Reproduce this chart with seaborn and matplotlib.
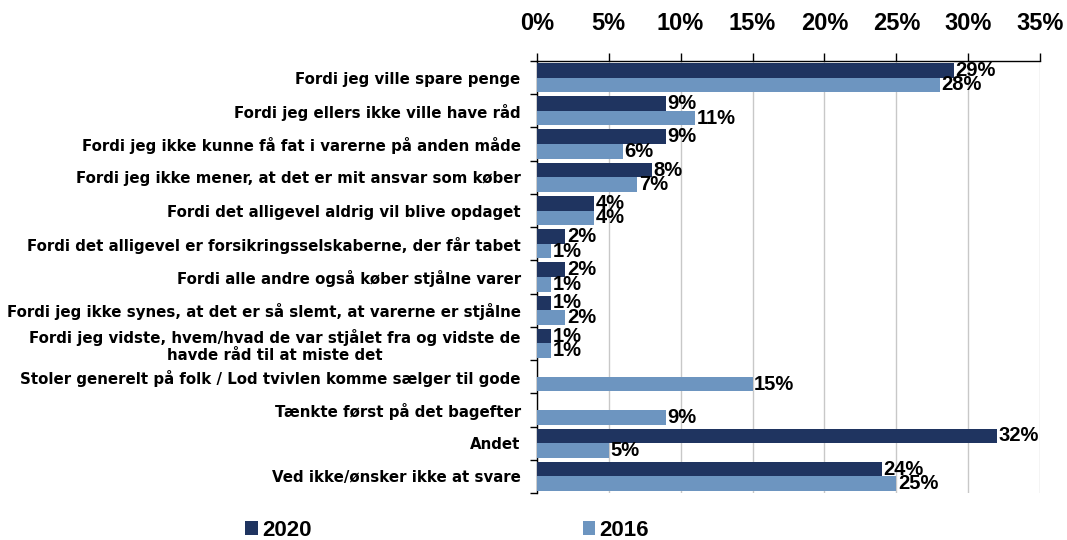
import pandas as pd
import numpy as np
import matplotlib.pyplot as plt
import seaborn as sns
from matplotlib.ticker import FuncFormatter, FixedLocator

# Chart data (percent)
categories = [
    "Fordi jeg ville spare penge",
    "Fordi jeg ellers ikke ville have råd",
    "Fordi jeg ikke kunne få fat i varerne på anden måde",
    "Fordi jeg ikke mener, at det er mit ansvar som køber",
    "Fordi det alligevel aldrig vil blive opdaget",
    "Fordi det alligevel er forsikringsselskaberne, der får tabet",
    "Fordi alle andre også køber stjålne varer",
    "Fordi jeg ikke synes, at det er så slemt, at varerne er stjålne",
    "Fordi jeg vidste, hvem/hvad de var stjålet fra og vidste de\nhavde råd til at miste det",
    "Stoler generelt på folk / Lod tvivlen komme sælger til gode",
    "Tænkte først på det bagefter",
    "Andet",
    "Ved ikke/ønsker ikke at svare",
]
values_2020 = [29, 9, 9, 8, 4, 2, 2, 1, 1, np.nan, np.nan, 32, 24]
values_2016 = [28, 11, 6, 7, 4, 1, 1, 2, 1, 15, 9, 5, 25]
years = ["2020", "2016"]
x_ticks = [0, 5, 10, 15, 20, 25, 30, 35]

colors = {"2020": "#1F3460", "2016": "#6D95C0"}

df = pd.concat([
    pd.DataFrame({"category": categories, "value": values_2020, "year": "2020"}),
    pd.DataFrame({"category": categories, "value": values_2016, "year": "2016"}),
], ignore_index=True)

sns.set_style("white")
plt.rcParams["font.family"] = ["Liberation Sans", "DejaVu Sans"]
plt.rcParams["font.weight"] = "bold"
plt.rcParams["text.color"] = "black"
plt.rcParams["xtick.color"] = "black"
plt.rcParams["ytick.color"] = "black"

fig = plt.figure(figsize=(10.67, 5.4), dpi=100)
ax = fig.add_axes([0.503, 0.087, 0.472, 0.800])

sns.barplot(data=df, x="value", y="category", hue="year", hue_order=years,
            order=categories, palette=colors, orient="h", width=0.88,
            linewidth=0, saturation=1, ax=ax, zorder=3)

# value labels
for cont in ax.containers:
    labels = ["" if np.isnan(v) else f"{v:.0f}%" for v in cont.datavalues]
    ax.bar_label(cont, labels=labels, padding=1, fontsize=14.5, fontweight="bold",
                 color="black")

ax.set_xlim(0, 35)
ax.set_ylim(len(categories) - 0.5, -0.5)
ax.xaxis.set_major_locator(FixedLocator(x_ticks))
ax.xaxis.set_major_formatter(FuncFormatter(lambda v, p: f"{v:.0f}%"))
ax.xaxis.tick_top()
ax.tick_params(axis="x", which="major", direction="out", length=6, width=1,
               color="black", pad=13, labelsize=17, top=True, bottom=False)
ax.grid(axis="x", color="#C8C8C8", linewidth=1, zorder=0)
ax.set_axisbelow(True)

# category ticks at group boundaries
ax.yaxis.set_minor_locator(FixedLocator(np.arange(-0.5, len(categories), 1)))
ax.tick_params(axis="y", which="major", length=0, pad=11.5)
ax.tick_params(axis="y", which="minor", direction="out", length=5, width=1,
               color="black", left=True)
for t in ax.get_yticklabels():
    t.set_multialignment("center")
    t.set_fontweight("bold")
    t.set_family("DejaVu Sans")
    t.set_fontsize(10.8)
for t in ax.get_xticklabels():
    t.set_fontweight("bold")

for side in ["right", "bottom"]:
    ax.spines[side].set_visible(False)
for side in ["left", "top"]:
    ax.spines[side].set_color("black")
    ax.spines[side].set_linewidth(1)

ax.set_xlabel("")
ax.set_ylabel("")

handles, labels = ax.get_legend_handles_labels()
ax.get_legend().remove()
fig.legend(handles, labels, loc="center", bbox_to_anchor=(0.419, 0.018), ncol=2,
           frameon=False, handlelength=0.55, handleheight=0.55, handletextpad=0.2,
           columnspacing=12.2, prop={"weight": "bold", "size": 16})

fig.savefig("out.png", dpi=100)
